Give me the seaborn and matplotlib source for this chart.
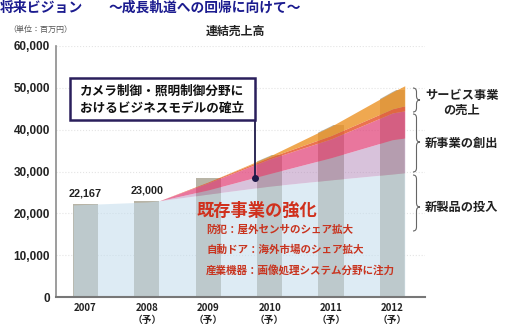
import matplotlib
matplotlib.use("Agg")
import matplotlib.pyplot as plt
from matplotlib.path import Path
from matplotlib.patches import PathPatch, Rectangle, Polygon
import seaborn as sns
import pandas as pd
import numpy as np

# ---------------- data ----------------
years = ['2007', '2008', '2009', '2010', '2011', '2012']
year_labels = ['2007', '2008\n（予）', '2009\n（予）', '2010\n（予）', '2011\n（予）', '2012\n（予）']
sales = [22167, 23000, 28500, 34000, 41200, 49600]
value_labels = ['22,167', '23,000']

y_ticks = [0, 10000, 20000, 30000, 40000, 50000, 60000]
y_tick_labels = ['0', '10,000', '20,000', '30,000', '40,000', '50,000', '60,000']

band_pos = [-0.2, 1.0, 1.2, 2.0, 3.0, 4.0, 5.0, 5.2]
existing = [22000, 22700, 23000, 24600, 26500, 28000, 29400, 29700]
new_products = [0, 0, 0, 1000, 3000, 5300, 8200, 8300]
new_business = [0, 0, 0, 1700, 3500, 4500, 6400, 6500]
accent = [0, 0, 0, 200, 400, 800, 1000, 1200]
service = [0, 0, 0, 0, 300, 2200, 4000, 4800]

header_left = '将来ビジョン'
header_right = '～成長軌道への回帰に向けて～'
unit_text = '（単位：百万円）'
title = '連結売上高'
box_lines = ['カメラ制御・照明制御分野に', 'おけるビジネスモデルの確立']
existing_title = '既存事業の強化'
existing_items = ['防犯：屋外センサのシェア拡大', '自動ドア：海外市場のシェア拡大', '産業機器：画像処理システム分野に注力']
right_labels = ['サービス事業\nの売上', '新事業の創出', '新製品の投入']

# ---------------- style ----------------
sns.set_style('white')
plt.rcParams['font.family'] = ['Noto Sans CJK JP', 'DejaVu Sans']

W, H = 505, 332
fig = plt.figure(figsize=(W / 100, H / 100), dpi=100)
ax = fig.add_axes([56 / W, 1 - 297 / H, (425 - 56) / W, (297 - 46) / H])


def fx(x):
    return x / W


def fy(y):
    return 1 - y / H


df = pd.DataFrame({'year': years, 'sales': sales})
sns.barplot(data=df, x='year', y='sales', order=years, color='#b8b4a6',
            saturation=1, width=0.41, ax=ax, zorder=1, edgecolor='none')

pos = np.array(band_pos)
b0 = np.array(existing, dtype=float)
b1 = b0 + np.array(new_products)
b2 = b1 + np.array(new_business)
b3 = b2 + np.array(accent)
b4 = b3 + np.array(service)

ax.fill_between(pos, 0, b0, color='#c2dcec', alpha=0.55, lw=0, zorder=2)
ax.fill_between(pos, b0, b1, color='#b387b9', alpha=0.5, lw=0, zorder=2)
ax.fill_between(pos, b1, b2, color='#e03c74', alpha=0.7, lw=0, zorder=2)
ax.fill_between(pos, b2, b3, color='#e85a30', alpha=0.85, lw=0, zorder=2)
ax.fill_between(pos, b3, b4, color='#ec9224', alpha=0.8, lw=0, zorder=2)

# clip forecast bars to the stacked envelope
env = Polygon(np.column_stack([np.r_[pos, pos[::-1]], np.r_[b4, np.zeros_like(b4)]]),
              closed=True, transform=ax.transData)
for i, p in enumerate(ax.patches):
    if i >= 3:
        p.set_clip_path(env)

ax.set_xlim(-0.48, 5.53)
ax.set_ylim(0, 60000)
ax.set_yticks(y_ticks)
ax.set_yticklabels(y_tick_labels, fontsize=8.5, fontweight='bold',
                   family=['Liberation Sans', 'DejaVu Sans'], color='#222222')
ax.set_xticks(range(len(years)))
ax.set_xticklabels(year_labels, fontsize=7, fontweight='bold', color='#222222',
                   linespacing=1.25)
ax.tick_params(axis='both', length=0)
ax.tick_params(axis='y', pad=4.3)
ax.tick_params(axis='x', pad=4.5)
ax.set_xlabel('')
ax.set_ylabel('')
ax.yaxis.grid(True, color='#e4e4e4', linestyle=':', lw=0.8, zorder=0)
ax.set_axisbelow(True)
for s in ['top', 'right']:
    ax.spines[s].set_visible(False)
ax.spines['left'].set_color('#8c8c8c')
ax.spines['left'].set_linewidth(1.2)
ax.spines['bottom'].set_color('#777777')
ax.spines['bottom'].set_linewidth(1.5)

# value labels
for i, lab in enumerate(value_labels):
    ax.text(i, sales[i] + 1300, lab, ha='center', va='bottom', fontsize=7.8,
            fontweight='bold', family=['Liberation Sans', 'DejaVu Sans'], color='#222222', zorder=5)

# annotation dot and line
ax.plot([2.76, 2.76], [28400, 42300], color='#1f1a4a', lw=1.3, zorder=6)
ax.plot([2.76], [28400], 'o', color='#1f1a4a', ms=4, zorder=6)

# headers
fig.text(fx(0), fy(8), header_left, fontsize=10, fontweight='bold', color='#1b1b8f',
         ha='left', va='center')
fig.text(fx(108), fy(8), header_right, fontsize=9.9, fontweight='bold', color='#1b1b8f',
         ha='left', va='center')
fig.text(fx(8), fy(29), unit_text, fontsize=5.8, color='#555555', ha='left', va='center')
fig.text(fx(235), fy(31), title, fontsize=8.6, fontweight='bold', color='#222222',
         ha='center', va='center')

# box
fig.patches.append(Rectangle((fx(70), fy(120)), fx(255) - fx(70), fy(78) - fy(120),
                             transform=fig.transFigure, facecolor='white',
                             edgecolor='#2a1f5c', lw=1.8, zorder=7))
fig.text(fx(162), fy(91), box_lines[0], fontsize=9.1, fontweight='bold', color='#111111',
         ha='center', va='center', zorder=8)
fig.text(fx(162), fy(108), box_lines[1], fontsize=9.1, fontweight='bold', color='#111111',
         ha='center', va='center', zorder=8)

# existing business text
fig.text(fx(197), fy(211), existing_title, fontsize=12.4, fontweight='bold', color='#d0301c',
         ha='left', va='center', zorder=8)
for j, t in enumerate(existing_items):
    fig.text(fx(206), fy(230 + 20 * j), t, fontsize=7.6, fontweight='bold', color='#c8341f',
             ha='left', va='center', zorder=8)

# right labels
fig.text(fx(462), fy(103), right_labels[0], fontsize=8.8, fontweight='bold', color='#222222',
         ha='center', va='center', linespacing=1.25)
fig.text(fx(462), fy(143), right_labels[1], fontsize=8.8, fontweight='bold', color='#222222',
         ha='center', va='center')
fig.text(fx(462), fy(207), right_labels[2], fontsize=8.8, fontweight='bold', color='#222222',
         ha='center', va='center')


def brace(x, y0, y1, ym, w=7, r=4):
    xm = x + w / 2
    pts = [(x, y0), (xm, y0), (xm, y0 + r), (xm, ym - r), (xm, ym), (x + w, ym),
           (xm, ym), (xm, ym + r), (xm, y1 - r), (xm, y1), (x, y1)]
    codes = [Path.MOVETO, Path.CURVE3, Path.CURVE3, Path.LINETO, Path.CURVE3, Path.CURVE3,
             Path.CURVE3, Path.CURVE3, Path.LINETO, Path.CURVE3, Path.CURVE3]
    pts = [(fx(a), fy(b)) for a, b in pts]
    fig.patches.append(PathPatch(Path(pts, codes), transform=fig.transFigure,
                                 facecolor='none', edgecolor='#666666', lw=0.8))


brace(413, 88, 112, 100)
brace(413, 114, 172, 142)
brace(413, 175, 231, 207)

fig.savefig('out.png', dpi=100)
